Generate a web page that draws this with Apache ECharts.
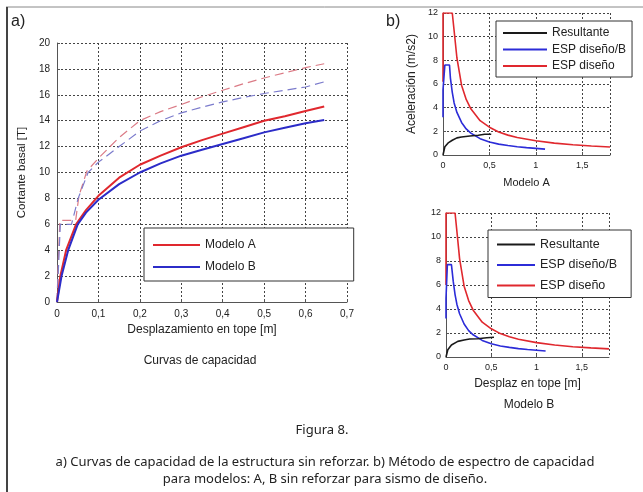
<!DOCTYPE html>
<html>
<head>
<meta charset="utf-8">
<script src="https://cdn.jsdelivr.net/npm/echarts@6/dist/echarts.min.js"></script>
<style>
  html, body { margin: 0; padding: 0; background: #fff; }
  #chart { width: 643px; height: 492px; }
</style>
</head>
<body>
<div id="chart"></div>
<script>
// a) curvas de capacidad [desplazamiento m, cortante T]
const modeloA = [[0, 0], [0.008, 2], [0.022, 4], [0.046, 6], [0.07, 7.1], [0.1, 8.2], [0.15, 9.6], [0.2, 10.6], [0.25, 11.3], [0.3, 11.95], [0.35, 12.5], [0.4, 13.0], [0.45, 13.5], [0.5, 14.0], [0.55, 14.35], [0.6, 14.75], [0.645, 15.1]]
const modeloB = [[0, 0], [0.011, 2], [0.027, 4], [0.05, 6], [0.07, 6.9], [0.1, 7.9], [0.15, 9.1], [0.2, 10.0], [0.25, 10.7], [0.3, 11.3], [0.35, 11.75], [0.4, 12.2], [0.45, 12.65], [0.5, 13.1], [0.55, 13.45], [0.6, 13.8], [0.645, 14.05]]
const modeloADash = [[0, 0], [0.003, 3], [0.007, 6.3], [0.045, 6.3], [0.053, 8.2], [0.072, 10.1], [0.1, 11.1], [0.128, 12], [0.15, 12.7], [0.2, 14.0], [0.25, 14.7], [0.3, 15.25], [0.35, 15.85], [0.4, 16.35], [0.45, 16.85], [0.5, 17.3], [0.55, 17.7], [0.6, 18.1], [0.645, 18.4]]
const modeloBDash = [[0, 0], [0.004, 3], [0.008, 6], [0.035, 6], [0.051, 8], [0.075, 10], [0.1, 10.8], [0.15, 12], [0.2, 13.2], [0.25, 14.0], [0.3, 14.6], [0.35, 15.05], [0.4, 15.45], [0.45, 15.8], [0.5, 16.1], [0.55, 16.35], [0.6, 16.6], [0.645, 17.0]]

// b) espectro de capacidad, Modelo A [Sd m, Sa m/s2]
const resultanteA = [[0, 0], [0.02, 0.7], [0.06, 1.05], [0.1, 1.25], [0.15, 1.45], [0.2, 1.52], [0.29, 1.6], [0.38, 1.67], [0.45, 1.75], [0.52, 1.75]]
const espBA = [[0, 3.2], [0, 5.5], [0.02, 7.6], [0.07, 7.6], [0.08, 6.5], [0.1, 5.3], [0.12, 4.4], [0.15, 3.6], [0.2, 2.75], [0.25, 2.2], [0.3, 1.85], [0.4, 1.38], [0.5, 1.1], [0.6, 0.92], [0.7, 0.8], [0.8, 0.7], [0.9, 0.62], [1.0, 0.56], [1.1, 0.5]]
const espA = [[0, 6.2], [0, 12], [0.1, 12], [0.12, 10.5], [0.15, 8.2], [0.2, 5.9], [0.25, 4.7], [0.3, 3.9], [0.4, 2.9], [0.5, 2.35], [0.6, 1.95], [0.7, 1.68], [0.8, 1.48], [1.0, 1.2], [1.2, 1.0], [1.4, 0.86], [1.6, 0.76], [1.8, 0.68]]

// b) Modelo B
const resultanteB = [[0, 0], [0.02, 0.6], [0.06, 1.0], [0.13, 1.3], [0.2, 1.42], [0.26, 1.5], [0.35, 1.52], [0.45, 1.6], [0.53, 1.65]]
const espBB = [[0, 3.2], [0, 4.9], [0.015, 7.7], [0.06, 7.7], [0.08, 6.3], [0.1, 5.2], [0.12, 4.4], [0.15, 3.6], [0.2, 2.75], [0.25, 2.2], [0.3, 1.85], [0.4, 1.38], [0.5, 1.1], [0.6, 0.92], [0.7, 0.8], [0.8, 0.7], [0.9, 0.62], [1.0, 0.56], [1.1, 0.5]]
const espB = [[0, 6.0], [0, 12], [0.1, 12], [0.12, 10.5], [0.15, 8.2], [0.2, 5.9], [0.25, 4.7], [0.3, 3.9], [0.4, 2.9], [0.5, 2.35], [0.6, 1.95], [0.7, 1.68], [0.8, 1.48], [1.0, 1.2], [1.2, 1.0], [1.4, 0.86], [1.6, 0.76], [1.8, 0.68]]

const font = 'Liberation Sans'
const comma = v => String(Math.round(v * 100) / 100).replace('.', ',')

const chart = echarts.init(document.getElementById('chart'))

function valueAxis(opt) {
  return Object.assign({
    type: 'value',
    nameLocation: 'middle',
    nameTextStyle: { fontFamily: font, fontSize: 12, color: '#222' },
    axisLine: { show: true, onZero: false, lineStyle: { color: '#555', width: 1 } },
    axisTick: { show: true, inside: true, length: 3, lineStyle: { color: '#555' } },
    axisLabel: { fontFamily: font, fontSize: 10, color: '#222', margin: 7, formatter: comma },
    splitLine: { show: true, lineStyle: { color: '#444', type: [2, 2], width: 1 } }
  }, opt)
}

function line(name, data, color, x, y, extra) {
  return Object.assign({
    type: 'line',
    name: name,
    data: data,
    xAxisIndex: x,
    yAxisIndex: y,
    symbol: 'none',
    animation: false,
    lineStyle: { color: color, width: 2 },
    itemStyle: { color: color }
  }, extra || {})
}

// legend boxes: plain line samples, no symbol
function legendBox(opt) {
  return Object.assign({
    orient: 'vertical',
    icon: 'rect',
    backgroundColor: '#fff',
    borderColor: '#333',
    borderWidth: 1,
    borderRadius: 0,
    itemWidth: 44,
    itemHeight: 2,
    selectedMode: false,
    textStyle: { fontFamily: font, fontSize: 12, color: '#222' }
  }, opt)
}

const option = {
  backgroundColor: '#fff',
  animation: false,
  grid: [
    { left: 57, top: 43, width: 290, height: 259 },
    { left: 443, top: 13, width: 167, height: 142 },
    { left: 446, top: 213, width: 163, height: 144 }
  ],
  xAxis: [
    valueAxis({ gridIndex: 0, min: 0, max: 0.7, interval: 0.1, name: 'Desplazamiento en tope [m]', nameGap: 22 }),
    valueAxis({ gridIndex: 1, min: 0, max: 1.8, interval: 0.5, name: 'Modelo A', nameGap: 22,
      nameTextStyle: { fontFamily: font, fontSize: 11, color: '#222' },
      axisLabel: { fontFamily: font, fontSize: 9, color: '#222', margin: 6, formatter: comma, showMaxLabel: false } }),
    valueAxis({ gridIndex: 2, min: 0, max: 1.8, interval: 0.5, name: 'Desplaz en tope [m]', nameGap: 21,
      axisLabel: { fontFamily: font, fontSize: 9, color: '#222', margin: 6, formatter: comma, showMaxLabel: false } })
  ],
  yAxis: [
    valueAxis({ gridIndex: 0, min: 0, max: 20, interval: 2, name: 'Cortante basal [T]', nameGap: 29,
      nameTextStyle: { fontFamily: font, fontSize: 11.5, color: '#222' } }),
    valueAxis({ gridIndex: 1, min: 0, max: 12, interval: 2, name: 'Aceleración (m/s2)', nameGap: 25,
      axisLabel: { fontFamily: font, fontSize: 9, color: '#222', margin: 5, formatter: comma } }),
    valueAxis({ gridIndex: 2, min: 0, max: 12, interval: 2,
      axisLabel: { fontFamily: font, fontSize: 9, color: '#222', margin: 5, formatter: comma } })
  ],
  legend: [
    legendBox({ left: 144, top: 228, data: ['Modelo A', 'Modelo B'], itemWidth: 47, itemGap: 10,
      padding: [11, 98, 8, 9] }),
    legendBox({ left: 496, top: 21, data: ['Resultante', 'ESP diseño/B', 'ESP diseño'], itemGap: 4.5,
      padding: [6, 6, 5, 7] }),
    legendBox({ left: 488, top: 230, data: ['Resultante', 'ESP diseño/B', 'ESP diseño'], itemWidth: 38, itemGap: 7.5,
      padding: [8, 14, 5.5, 9], textStyle: { fontFamily: font, fontSize: 12.5, color: '#222' } })
  ],
  series: [
    line('Modelo A reforzado', modeloADash, '#db7b86', 0, 0, { lineStyle: { color: '#db7b86', width: 1.2, type: [9, 5] } }),
    line('Modelo B reforzado', modeloBDash, '#7b7bcc', 0, 0, { lineStyle: { color: '#7b7bcc', width: 1.2, type: [9, 5] } }),
    line('Modelo A', modeloA, '#e0282e', 0, 0),
    line('Modelo B', modeloB, '#2c2cc8', 0, 0),
    line('ESP diseño', espA, '#e0282e', 1, 1, { lineStyle: { color: '#e0282e', width: 1.6 } }),
    line('ESP diseño/B', espBA, '#2c2cd8', 1, 1, { lineStyle: { color: '#2c2cd8', width: 1.6 } }),
    line('Resultante', resultanteA, '#1a1a1a', 1, 1, { lineStyle: { color: '#1a1a1a', width: 1.6 } }),
    line('ESP diseño', espB, '#e0282e', 2, 2, { lineStyle: { color: '#e0282e', width: 1.6 } }),
    line('ESP diseño/B', espBB, '#2c2cd8', 2, 2, { lineStyle: { color: '#2c2cd8', width: 1.6 } }),
    line('Resultante', resultanteB, '#1a1a1a', 2, 2, { lineStyle: { color: '#1a1a1a', width: 1.6 } })
  ],
  graphic: [
    { type: 'line', shape: { x1: 6, y1: 7, x2: 643, y2: 7 }, style: { stroke: '#888', lineWidth: 1 } },
    { type: 'line', shape: { x1: 7, y1: 7, x2: 7, y2: 492 }, style: { stroke: '#444', lineWidth: 2 } },
    { type: 'text', left: 11, top: 14, style: { text: 'a)', fontFamily: font, fontSize: 16, fill: '#222' } },
    { type: 'text', left: 386, top: 14, style: { text: 'b)', fontFamily: font, fontSize: 16, fill: '#222' } },
    { type: 'text', x: 200, y: 361, style: { text: 'Curvas de capacidad', fontFamily: font, fontSize: 12, fill: '#222', textAlign: 'center', textVerticalAlign: 'middle' } },
    { type: 'text', x: 529, y: 405, style: { text: 'Modelo B', fontFamily: font, fontSize: 12, fill: '#222', textAlign: 'center', textVerticalAlign: 'middle' } },
    { type: 'text', x: 322, y: 430, style: { text: 'Figura 8.', fontFamily: 'Noto Sans', fontSize: 13, fill: '#222', textAlign: 'center', textVerticalAlign: 'middle' } },
    { type: 'text', x: 325, y: 462, style: { text: 'a) Curvas de capacidad de la estructura sin reforzar. b) Método de espectro de capacidad', fontFamily: 'Noto Sans', fontSize: 13, fill: '#222', textAlign: 'center', textVerticalAlign: 'middle' } },
    { type: 'text', x: 325, y: 479, style: { text: 'para modelos: A, B sin reforzar para sismo de diseño.', fontFamily: 'Noto Sans', fontSize: 13, fill: '#222', textAlign: 'center', textVerticalAlign: 'middle' } }
  ]
}

chart.setOption(option)
</script>
</body>
</html>
